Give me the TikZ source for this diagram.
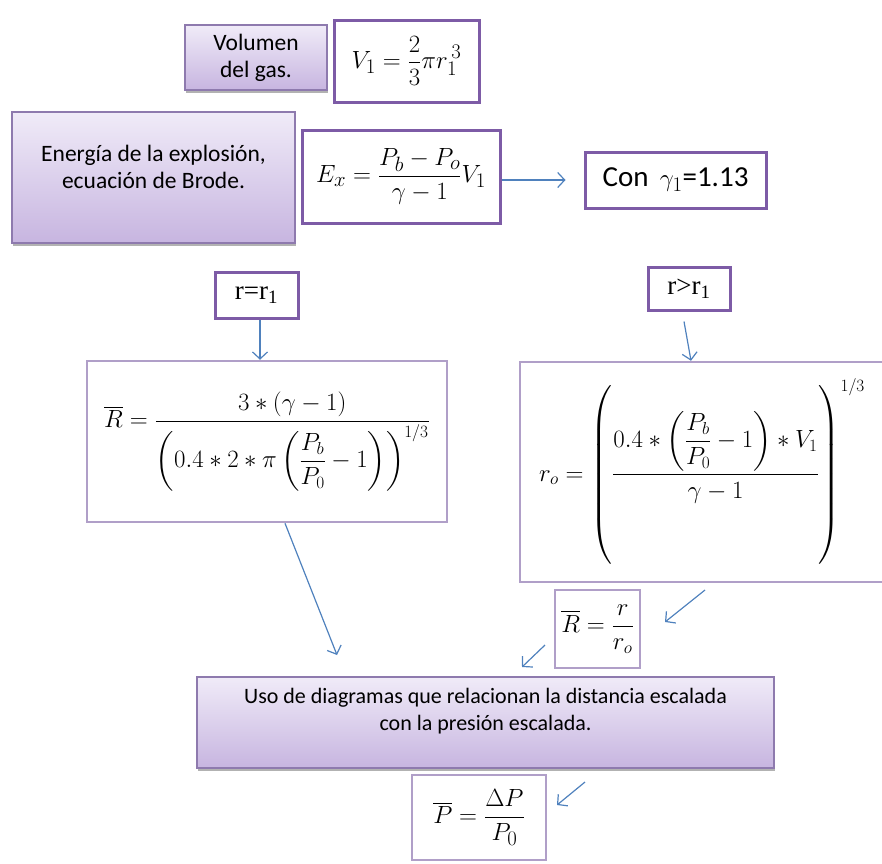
\documentclass[tikz,border=0pt]{standalone}
\usepackage{amsmath}
\usepackage{fontspec}
\setmainfont{Carlito}
\newfontfamily\timesfont{Liberation Serif}
\usepackage{xcolor}
\usetikzlibrary{arrows.meta,positioning,shadows}

\definecolor{lavtop}{HTML}{F0EBF8}
\definecolor{lavbot}{HTML}{C7B5E0}
\definecolor{lavline}{HTML}{8E7AAE}
\definecolor{purpline}{HTML}{7D5BA6}
\definecolor{lilacline}{HTML}{B09FC8}
\definecolor{flowblue}{HTML}{4F81BD}

\begin{document}
\begin{tikzpicture}[
  x=1pt, y=-1pt,
  gradbox/.style={draw=lavline, line width=1.2pt, top color=lavtop, bottom color=lavbot,
    drop shadow={shadow xshift=1pt, shadow yshift=-3pt, fill=black!60, opacity=.5},
    align=center, inner sep=0pt, font=\fontsize{23.5}{27}\selectfont},
  eqbox/.style={draw=purpline, line width=3pt, fill=white, inner sep=0pt,
    font=\fontsize{28}{32}\selectfont},
  bigeq/.style={draw=lilacline, line width=2.5pt, fill=white, inner sep=0pt,
    font=\fontsize{26}{30}\selectfont},
  flow/.style={-{Straight Barb[length=7pt,width=15pt]}, draw=flowblue, line width=1.2pt}
]
  \useasboundingbox (0,0) rectangle (882,863);

  \node[gradbox, minimum width=142pt, minimum height=65pt] (vol) at (256,57.5) {Volumen\\del gas.};
  \node[eqbox, minimum width=145pt, minimum height=82pt] (vone) at (406.5,61)
    {$\displaystyle V_1=\frac{2}{3}\pi r_1^{\,3}$};
  \node[gradbox, minimum width=283pt, minimum height=131pt] (energia) at (153.5,177.5)
    {Energía de la explosión,\\ecuación de Brode.\\[-14pt]\strut};
  \node[eqbox, minimum width=198pt, minimum height=93pt] (ex) at (401,176.5)
    {$\displaystyle E_x=\frac{P_b-P_o}{\gamma-1}V_1$};
  \node[eqbox, minimum width=181pt, minimum height=56pt, font=\fontsize{29}{32}\selectfont] (gam) at (675.5,180)
    {Con\, $\gamma_1$=1.13};
  \node[eqbox, minimum width=83pt, minimum height=46pt, font=\timesfont\fontsize{27}{30}\selectfont] (req) at (256.5,295)
    {r=r\textsubscript{1}};
  \node[eqbox, minimum width=82pt, minimum height=43pt, font=\timesfont\fontsize{27}{30}\selectfont] (rgt) at (689,288.5)
    {r>r\textsubscript{1}};
  \node[bigeq, minimum width=360pt, minimum height=161pt] (rbar) at (267,441.5)
    {$\displaystyle \overline{R}=\frac{3*(\gamma-1)}{\left(0.4*2*\pi\left(\dfrac{P_b}{P_0}-1\right)\right)^{1/3}}$};
  \node[bigeq, minimum width=364pt, minimum height=220pt] (rzero) at (702,472)
    {$\displaystyle r_o=\left(\rule[-84pt]{0pt}{168pt}\frac{0.4*\left(\dfrac{P_b}{P_0}-1\right)*V_1}{\gamma-1}\right)^{1/3}$\hspace{30pt}};
  \node[bigeq, line width=2pt, minimum width=85pt, minimum height=78pt] (rscal) at (597.5,629)
    {$\displaystyle \overline{R}=\frac{r}{r_o}$};
  \node[gradbox, minimum width=577pt, minimum height=91pt, font=\fontsize{22}{27}\selectfont] (uso) at (485.5,722.5)
    {Uso de diagramas que relacionan la distancia escalada\\con la presión escalada.\\[-8pt]\strut};
  \node[bigeq, line width=2pt, minimum width=134pt, minimum height=85pt, font=\fontsize{29}{32}\selectfont] (pscal) at (479,817.5)
    {$\displaystyle \overline{P}=\frac{\Delta P}{P_0}$};

  \coordinate (hit) at (337,655);
  \coordinate (a1) at (705,590);
  \coordinate (b1) at (665,622);
  \coordinate (a2) at (545,645);
  \coordinate (b2) at (522,667);
  \coordinate (a3) at (585,782);
  \coordinate (b3) at (557,805);

  \draw[flow] ([yshift=-3.5pt]ex.east) -- ([xshift=-18pt]gam.west);
  \draw[flow] ([xshift=3.5pt]req.south) -- ([xshift=3.5pt]req.south |- rbar.north);
  \draw[flow] ([shift={(-5pt,-10pt)}]rgt.south) -- ([xshift=2pt]rgt.south |- rzero.north);
  \draw[flow] ([xshift=18pt]rbar.south) -- (hit);
  \draw[flow] (a1) -- (b1);
  \draw[flow] (a2) -- (b2);
  \draw[flow] (a3) -- (b3);
\end{tikzpicture}
\end{document}
